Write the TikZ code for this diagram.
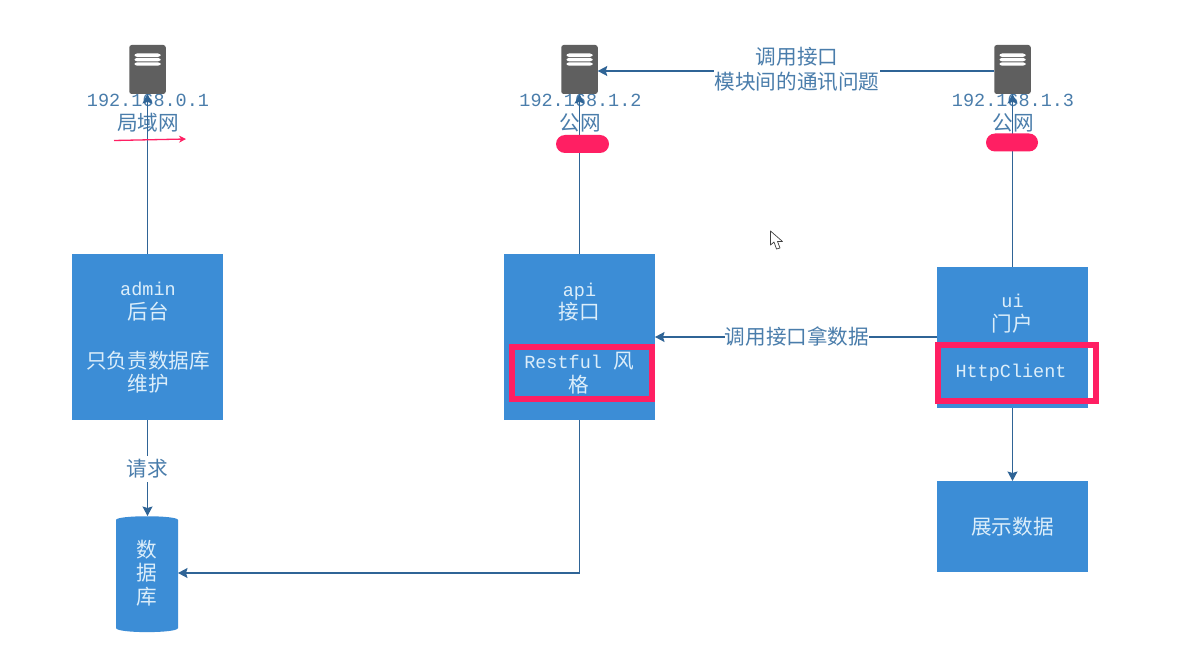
\documentclass[tikz,border=0pt]{standalone}
\usepackage{fontspec}
\setmainfont{Liberation Mono}
\newfontfamily\cjk{Noto Sans CJK SC}[Scale=1.115]
\usetikzlibrary{arrows.meta,shapes.misc}
\newcommand{\zh}[1]{{\cjk #1}}
\definecolor{boxblue}{HTML}{3C8DD6}
\definecolor{boxtext}{HTML}{DCEEFA}
\definecolor{linecol}{HTML}{2F6496}
\definecolor{labelcol}{HTML}{4A7DAB}
\definecolor{hot}{HTML}{FF1F63}
\definecolor{servergrey}{HTML}{5F5F5F}
\tikzset{
  x=1pt,y=-1pt,
  txt/.style={font=\fontsize{18.5}{23.5}\selectfont,align=center,inner sep=0pt,outer sep=0pt},
  bluebox/.style={txt,fill=boxblue,text=boxtext,minimum width=151pt,anchor=north west},
  redbox/.style={draw=hot,line width=6pt,inner sep=0pt,anchor=center},
  server/.style={fill=servergrey,rounded corners=2.5pt,minimum width=36.5pt,minimum height=49pt,inner sep=0pt,outer sep=0pt,
    path picture={
      \foreach \yy in {16,11.6,7.2}{
        \fill[white] ([shift={(-13pt,\yy pt)}]path picture bounding box.center) rectangle ++(26pt,-3.4pt);
      }}},
  iplabel/.style={txt,text=labelcol},
  edgelabel/.style={txt,text=labelcol,fill=white},
  conn/.style={draw=linecol,line width=1.1pt,-{Stealth[length=9.5pt,width=10pt,inset=1.5pt]}},
  pill/.style={fill=hot,rounded rectangle,inner sep=0pt,minimum height=18pt},
}
\begin{document}
\begin{tikzpicture}
\useasboundingbox[fill=white] (0,0) rectangle (1196,660);

% address labels
\node[iplabel] (ip1) at (148,113) {192.168.0.1\\\zh{局域网}};
\node[iplabel] (ip2) at (580.5,113) {192.168.1.2\\\zh{公网}};
\node[iplabel] (ip3) at (1013,113) {192.168.1.3\\\zh{公网}};

% servers
\node[server] (s1) at (147.5,69.5) {};
\node[server] (s2) at (579.5,69.5) {};
\node[server] (s3) at (1012.5,69.5) {};

% boxes
\node[bluebox,minimum height=166pt] (admin) at (72,254) {};
\node[txt,text=boxtext] (admint) at (148,338) {admin\\\zh{后台}\\[25.5pt]\zh{只负责数据库}\\\zh{维护}};
\node[bluebox,minimum height=166pt] (api) at (504,254) {};
\node[bluebox,minimum height=141pt] (ui) at (937,267) {};
\node[bluebox,minimum height=91pt] (show) at (937,481) {\zh{展示数据}};
\node[txt,text=boxtext] (apit) at (579.5,302) {api\\\zh{接口}};
\node[txt,text=boxtext] (uit) at (1012.5,313.5) {ui\\\zh{门户}};

% database
\fill[boxblue] (116,520) .. controls (116,515) and (178,515) .. (178,520)
  -- (178,628) .. controls (178,633.5) and (116,633.5) .. (116,628) -- cycle;
\node[minimum width=62pt,minimum height=116pt,inner sep=0pt,outer sep=0pt] (db) at (147,574) {};
\node[txt,text=boxtext] (dbt) at (147,573) {\zh{数}\\\zh{据}\\\zh{库}};

% connectors
\draw[conn] (admin.north) -- (s1.south);
\draw[conn] (api.north) -- (s2.south);
\draw[conn] (ui.north) -- (s3.south);
\draw[conn] (s3.west |- 0,71) -- node[edgelabel,pos=0.5,xshift=1pt,yshift=2pt] (top) {\zh{调用接口}\\[1.5pt]\zh{模块间的通讯问题}} (s2.east |- 0,71);
\draw[conn] (ui.west |- 0,337) -- node[edgelabel,xshift=1pt] (fetch) {\zh{调用接口拿数据}} (api.east |- 0,337);
\draw[conn] (ui.south) -- (show.north);
\draw[conn] (admin.south) -- node[edgelabel,inner xsep=2pt,inner ysep=3pt,yshift=-1pt] (req) {\zh{请求}} (admin.south |- db.north);
\draw[conn] (api.south) |- (db.east |- 0,573);

% highlights
\node[pill,minimum width=53pt] (p2) at (582.5,144) {};
\node[pill,minimum width=52pt] (p3) at (1012,142.5) {};
\node[redbox,minimum width=140pt,minimum height=52pt] (rest) at (582,373) {};
\node[txt,text=boxtext] (restt) at (579,373) {Restful \zh{风}\\\zh{格}};
\node[redbox,minimum width=158pt,minimum height=56pt] (http) at (1017,373) {};
\node[txt,text=boxtext] (httpt) at (1011,373) {HttpClient};

% hand-drawn red arrow
\coordinate (ra) at (114,140.5);
\coordinate (rb) at (186,139);
\draw[hot,line width=1.3pt,-{Stealth[length=7pt,width=7pt]}] (ra) -- (rb);

% mouse pointer
\draw[black!75,fill=white,line width=0.7pt,line join=round]
  (770.5,231) -- (770.5,245) -- (774,242) -- (776.5,249) -- (780,248) -- (777.5,241.5) -- (782.5,241.5) -- cycle;
\end{tikzpicture}
\end{document}
